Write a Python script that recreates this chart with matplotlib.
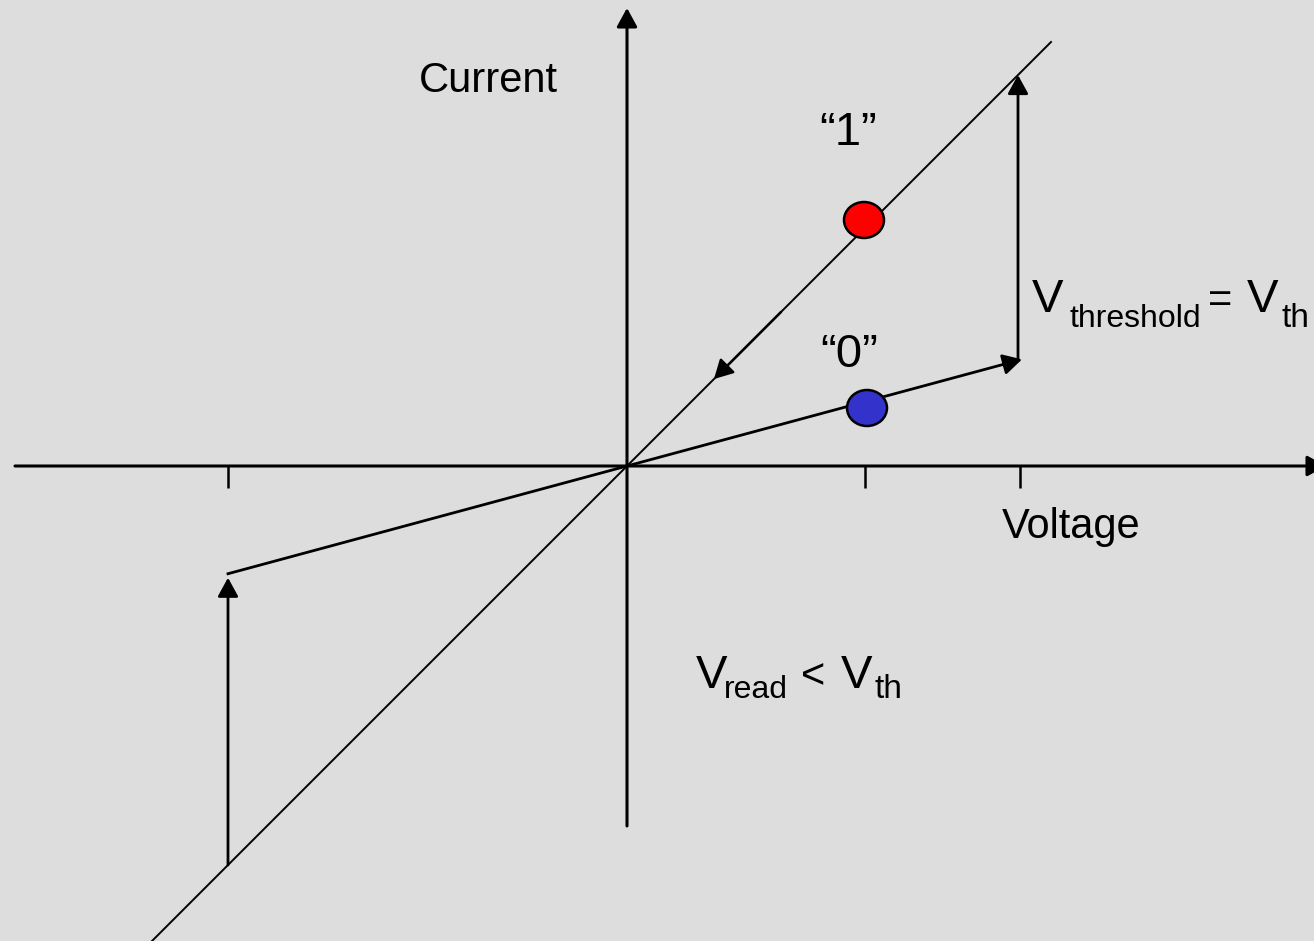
import matplotlib.pyplot as plt
from matplotlib.patches import Ellipse

plt.rcParams['font.family'] = ['Liberation Sans', 'DejaVu Sans']

# units: one unit = one pixel, origin where the two axes cross
slope_on = 1.0        # state "1" (low resistance)
slope_off = 0.27      # state "0" (high resistance)
v_th = 391
v_read = 238
v_neg = -399
tick_x = [v_neg, v_read, v_th + 2]
on_line_x = [-475, 424]
off_line_x = [v_neg, 0, v_th + 4]
return_arrow_x = [154, 87]
dots_x = [237, 240]
dots_y = [246, 58]
dots_color = ['#ff0000', '#3333cc']
volt_axis = [-612, 699]
curr_axis = [-360, 458]

bg = '#dddddd'
fig = plt.figure(figsize=(13.14, 9.41), dpi=100, facecolor=bg)
ax = fig.add_axes([0, 0, 1, 1])
ax.set_xlim(-627, 687)
ax.set_ylim(-475, 466)
ax.axis('off')
ax.set_facecolor(bg)


def arrow(x0, y0, x1, y1, lw):
    ax.annotate('', xy=(x1, y1), xytext=(x0, y0), xycoords='data',
                arrowprops=dict(arrowstyle='-|>,head_length=0.95,head_width=0.52',
                                mutation_scale=12, lw=lw, color='black',
                                shrinkA=0, shrinkB=0), annotation_clip=False)


# axes
arrow(volt_axis[0], 0, volt_axis[1], 0, 2.2)
arrow(0, curr_axis[0], 0, curr_axis[1], 2.2)
for t in tick_x:
    ax.plot([t, t], [0, -22], color='black', lw=1.8, solid_capstyle='butt')

# state "1" line
ax.plot(on_line_x, [slope_on * x for x in on_line_x], color='black', lw=1.4)

# state "0" line, positive side with arrow
ax.plot(off_line_x[:2], [slope_off * x for x in off_line_x[:2]], color='black', lw=2.0)
arrow(0, 0, off_line_x[2], slope_off * off_line_x[2], 2.0)

# switching at v_th
arrow(v_th, slope_off * v_th + 2, v_th, slope_on * v_th, 2.0)
arrow(v_neg, slope_on * v_neg, v_neg, slope_off * v_neg - 4, 2.0)

# return path
arrow(return_arrow_x[0], slope_on * return_arrow_x[0],
      return_arrow_x[1], slope_on * return_arrow_x[1], 1.8)

for x, y, c in zip(dots_x, dots_y, dots_color):
    ax.add_patch(Ellipse((x, y), 40, 36, facecolor=c, edgecolor='black', lw=1.8, zorder=5))

# labels
ax.text(-139, 374, 'Current', fontsize=30, ha='center', va='baseline')
ax.text(444, -72, 'Voltage', fontsize=30, ha='center', va='baseline')
ax.text(221, 321, '\u201c1\u201d', fontsize=34, ha='center', va='baseline')
ax.text(222, 99, '\u201c0\u201d', fontsize=34, ha='center', va='baseline')

ax.text(405, 154, 'V', fontsize=34, ha='left', va='baseline')
ax.text(442, 139, 'threshold', fontsize=23, ha='left', va='baseline')
ax.text(581, 154, '=', fontsize=30, ha='left', va='baseline')
ax.text(620, 154, 'V', fontsize=34, ha='left', va='baseline')
ax.text(654, 139, 'th', fontsize=24, ha='left', va='baseline')

ax.text(69, -222, 'V', fontsize=34, ha='left', va='baseline')
ax.text(97, -232, 'read', fontsize=23, ha='left', va='baseline')
ax.text(174, -222, '<', fontsize=30, ha='left', va='baseline')
ax.text(214, -222, 'V', fontsize=34, ha='left', va='baseline')
ax.text(248, -232, 'th', fontsize=24, ha='left', va='baseline')

fig.savefig('out.png', dpi=100, facecolor=bg)
